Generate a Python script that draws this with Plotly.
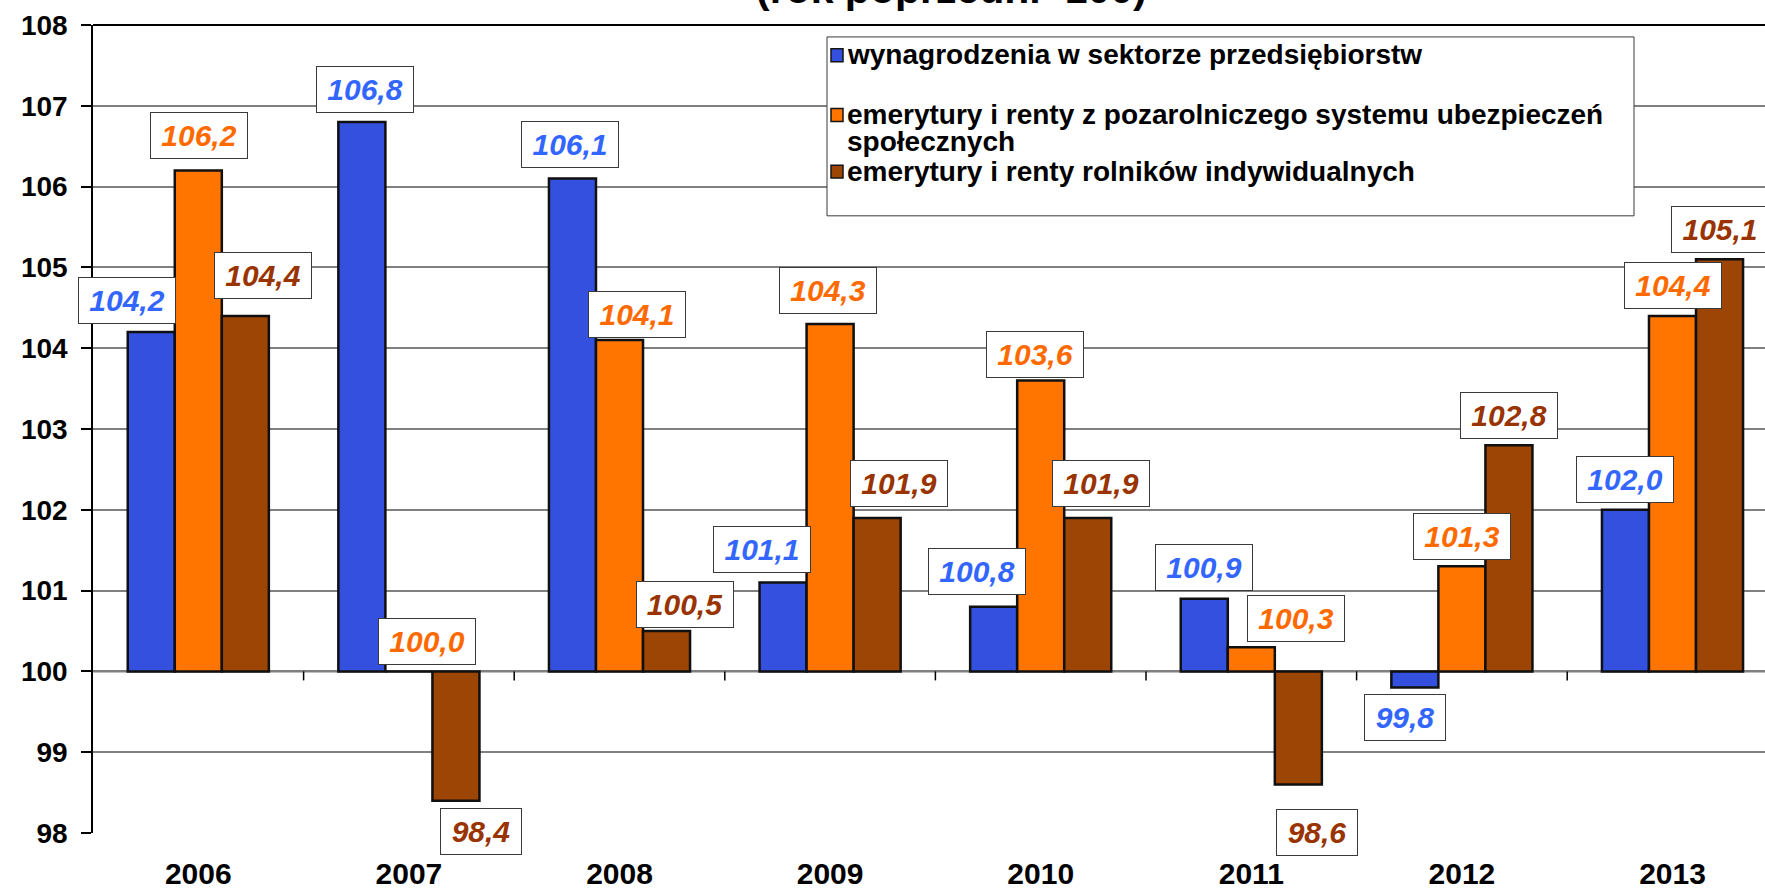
import plotly.graph_objects as go

# ---- data -------------------------------------------------------------
years = ["2006", "2007", "2008", "2009", "2010", "2011", "2012", "2013"]
wynagrodzenia = [104.2, 106.8, 106.1, 101.1, 100.8, 100.9, 99.8, 102.0]
emerytury_pozarolnicze = [106.2, 100.0, 104.1, 104.3, 103.6, 100.3, 101.3, 104.4]
emerytury_rolnicy = [104.4, 98.4, 100.5, 101.9, 101.9, 98.6, 102.8, 105.1]
y_ticks = [98, 99, 100, 101, 102, 103, 104, 105, 106, 107, 108]
BASE = 100

series_names = [
    "wynagrodzenia w sektorze przedsiębiorstw",
    "emerytury i renty z pozarolniczego systemu ubezpieczeń<br>społecznych",
    "emerytury i renty rolników indywidualnych",
]
series_values = [wynagrodzenia, emerytury_pozarolnicze, emerytury_rolnicy]

# ---- styling ----------------------------------------------------------
FONT = "Liberation Sans, Arial, sans-serif"
bar_colors = ["#3350DF", "#FF7500", "#9C4505"]
label_colors = ["#3366FF", "#FF6A00", "#993300"]
BARGAP = 0.33
BAR_W = (1 - BARGAP) / 3

# page geometry (pixels)
FIG_W, FIG_H = 1765, 890
M_L, M_T, M_B = 93, 25, 52
PLOT_W = FIG_W - M_L
PLOT_H = FIG_H - M_T - M_B
CAT_PX = 210.6

# value-label box placement relative to the bar end (pixels, screen dy)
label_offsets = [
    [(-24, -32), (3, -32), (-2, -34), (-21, -33), (-17, -35), (0, -31), (-10, 30), (0, -30)],
    [(1, -35), (18, -30), (17, -26), (-2, -33), (-6, -26), (45, -29), (0, -30), (0, -30)],
    [(18, -40), (25, 31), (18, -27), (22, -34), (13, -34), (19, 48), (0, -30), (0, -30)],
]


def px_x(px):
    return (px - M_L) / PLOT_W


def px_y(py):
    return 1 - (py - M_T) / PLOT_H


def fmt(v):
    return f"{v:.1f}".replace(".", ",")


fig = go.Figure()
xs = list(range(len(years)))

for name, vals, col in zip(series_names, series_values, bar_colors):
    fig.add_trace(go.Bar(
        x=xs,
        y=[v - BASE for v in vals],
        base=BASE,
        name=name,
        marker=dict(color=col, line=dict(color="#101010", width=2.5)),
        showlegend=False,
        hovertemplate="%{x}: %{customdata}<extra></extra>",
        customdata=[fmt(v) for v in vals],
    ))

annotations = []
for k, (vals, tcol, offs) in enumerate(zip(series_values, label_colors, label_offsets)):
    for i, v in enumerate(vals):
        txt = fmt(v)
        dx, dy = offs[i]
        annotations.append(dict(
            x=i + (k - 1) * BAR_W, y=v, xref="x", yref="y",
            text=txt, showarrow=False,
            xanchor="center", yanchor="middle",
            xshift=dx, yshift=-dy,
            font=dict(family=FONT, size=30, color=tcol, weight="bold", style="italic"),
            bgcolor="white", bordercolor="#3a3a3a", borderwidth=1, borderpad=3,
            width=90 if len(txt) == 5 else 74, height=39,
        ))

# title (upper part lies above the page)
annotations.append(dict(
    x=px_x(952), y=1, xref="paper", yref="paper",
    text="(rok poprzedni=100)", showarrow=False,
    xanchor="center", yanchor="bottom", yshift=11,
    font=dict(family=FONT, size=41, color="black", weight="bold"),
))

# legend drawn as a framed text block
legend_rows = [
    (55, "wynagrodzenia w sektorze przedsiębiorstw", 0),
    (115, "emerytury i renty z pozarolniczego systemu ubezpieczeń", 1),
    (142, "społecznych", None),
    (172, "emerytury i renty rolników indywidualnych", 2),
]
shapes = [
    dict(type="rect", xref="paper", yref="paper",
         x0=px_x(827), x1=px_x(1634), y0=px_y(217), y1=px_y(37),
         fillcolor="white", line=dict(color="#3a3a3a", width=1), layer="above"),
]
for ypx, text, idx in legend_rows:
    annotations.append(dict(
        x=px_x(845), y=px_y(ypx), xref="paper", yref="paper",
        text=text, showarrow=False, xanchor="left", yanchor="middle",
        font=dict(family=FONT, size=28, color="black", weight="bold"),
    ))
    if idx is not None:
        shapes.append(dict(
            type="rect", xref="paper", yref="paper",
            x0=px_x(831), x1=px_x(843), y0=px_y(ypx + 7), y1=px_y(ypx - 6),
            fillcolor=bar_colors[idx], line=dict(color="#141414", width=1.5),
            layer="above",
        ))

# base line at 100 with category boundary ticks
shapes.append(dict(type="line", xref="paper", yref="y", x0=0, x1=1, y0=BASE, y1=BASE,
                   line=dict(color="black", width=1.5), layer="between"))
for i in range(len(years) - 1):
    shapes.append(dict(type="line", xref="x", yref="y", ysizemode="pixel", yanchor=BASE,
                       x0=i + 0.5, x1=i + 0.5, y0=0, y1=-9,
                       line=dict(color="black", width=1.5), layer="between"))
# top frame line
shapes.append(dict(type="line", xref="paper", yref="paper", x0=0, x1=1, y0=1, y1=1,
                   line=dict(color="black", width=2), layer="between"))

x_max = -0.5 + PLOT_W / CAT_PX

fig.update_layout(
    width=FIG_W, height=FIG_H,
    margin=dict(l=M_L, r=0, t=M_T, b=M_B, pad=0),
    paper_bgcolor="white", plot_bgcolor="white",
    barmode="group", bargap=BARGAP, bargroupgap=0,
    font=dict(family=FONT, color="black"),
    annotations=annotations, shapes=shapes,
    xaxis=dict(
        range=[-0.5, x_max], tickmode="array", tickvals=xs, ticktext=years,
        showgrid=False, zeroline=False, showline=False, ticks="",
        tickfont=dict(family=FONT, size=30, color="black", weight="bold"),
        ticklabelstandoff=20,
    ),
    yaxis=dict(
        range=[y_ticks[0], y_ticks[-1]], tickmode="array", tickvals=y_ticks,
        ticktext=[str(t) for t in y_ticks],
        showgrid=True, gridcolor="#808080", gridwidth=1.5,
        zeroline=False, showline=True, linecolor="black", linewidth=1.5,
        ticks="outside", ticklen=10, tickcolor="black", tickwidth=1.5,
        tickfont=dict(family=FONT, size=28, color="black", weight="bold"),
        ticklabelstandoff=8,
    ),
)

fig.write_html("out.html")
